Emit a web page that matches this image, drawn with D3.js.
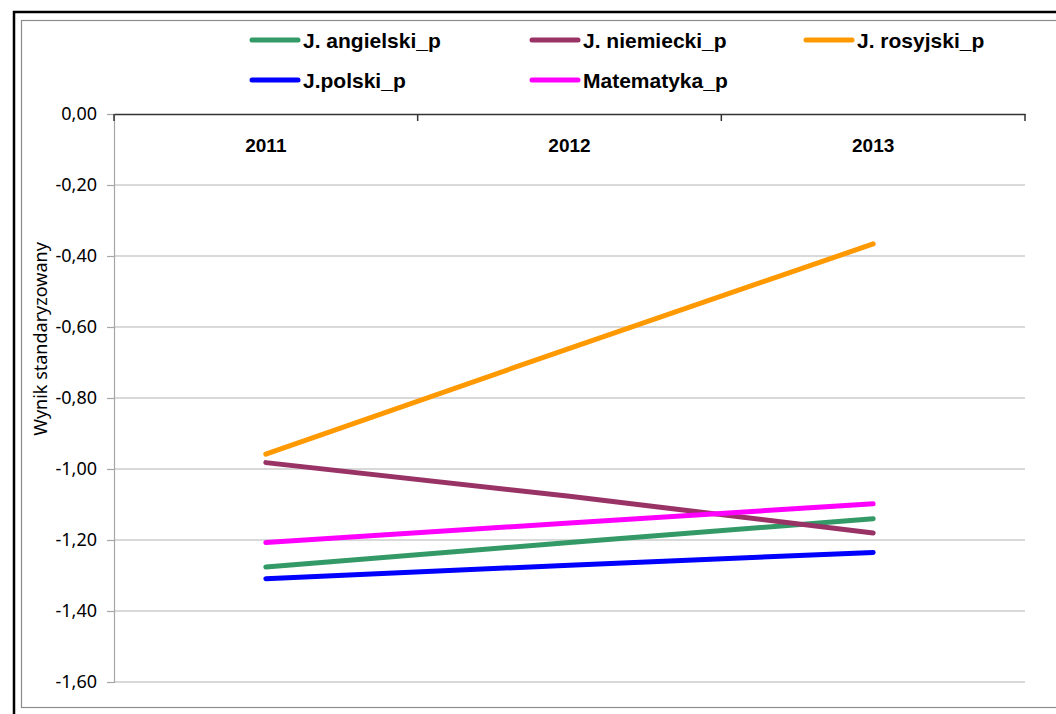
<!DOCTYPE html>
<html>
<head>
<meta charset="utf-8">
<script src="https://cdn.jsdelivr.net/npm/d3@7"></script>
<style>
  body { margin: 0; background: #fff; }
  svg { display: block; }
</style>
</head>
<body>
<div id="chart"></div>
<script>
const years = ["2011", "2012", "2013"]
const angielski = [-1.276, -1.207, -1.140]
const niemiecki = [-0.982, -1.077, -1.180]
const rosyjski = [-0.958, -0.660, -0.366]
const polski = [-1.309, -1.271, -1.235]
const matematyka = [-1.207, -1.152, -1.098]
const seriesNames = ["J. angielski_p", "J. niemiecki_p", "J. rosyjski_p", "J.polski_p", "Matematyka_p"]
const yTicks = [0, -0.2, -0.4, -0.6, -0.8, -1.0, -1.2, -1.4, -1.6]

const series = [
  { name: seriesNames[0], values: angielski, color: "#339966" },
  { name: seriesNames[1], values: niemiecki, color: "#993366" },
  { name: seriesNames[2], values: rosyjski, color: "#FF9900" },
  { name: seriesNames[3], values: polski, color: "#0000FF" },
  { name: seriesNames[4], values: matematyka, color: "#FF00FF" }
]

const W = 1056, H = 714
const pLeft = 114, pRight = 1025, pTop = 114, pBottom = 682

const svg = d3.select("#chart").append("svg")
  .attr("width", W)
  .attr("height", H)

// frame
svg.append("path")
  .attr("d", "M14,714 L14,12 L1056,12")
  .attr("fill", "none")
  .attr("stroke", "#000")
  .attr("stroke-width", 2.5)
svg.append("rect")
  .attr("x", 21.5).attr("y", 20.5)
  .attr("width", 1050).attr("height", 687)
  .attr("fill", "none")
  .attr("stroke", "#8c8c8c")
  .attr("stroke-width", 1.2)

const x = d3.scaleBand().domain(years).range([pLeft, pRight])
const y = d3.scaleLinear().domain([-1.6, 0]).range([pBottom, pTop])

// gridlines
svg.append("g")
  .selectAll("line")
  .data(yTicks.slice(1))
  .enter()
  .append("line")
  .attr("x1", pLeft).attr("x2", pRight)
  .attr("y1", d => y(d)).attr("y2", d => y(d))
  .attr("stroke", "#b3b3b3")
  .attr("stroke-width", 1.2)

// y axis
const yAxis = d3.axisLeft(y)
  .tickValues(yTicks)
  .tickSize(7)
  .tickPadding(10)
  .tickFormat(d => d3.format(".2f")(d).replace(".", ",").replace("−", "-"))
const gy = svg.append("g")
  .attr("transform", "translate(" + pLeft + ",0)")
  .call(yAxis)
gy.select(".domain").attr("stroke", "#a6a6a6").attr("stroke-width", 1.2)
gy.selectAll(".tick line").attr("stroke", "#a6a6a6").attr("stroke-width", 1.2)
gy.selectAll("text")
  .attr("font-family", "'Noto Sans', sans-serif")
  .attr("font-size", 18)
  .attr("fill", "#000")

// x axis on top (at 0,00)
const xAxis = d3.axisBottom(x).tickSize(0).tickPadding(25)
const gx = svg.append("g")
  .attr("transform", "translate(0," + pTop + ")")
  .call(xAxis)
gx.select(".domain").attr("stroke", "#333").attr("stroke-width", 1.5)
gx.selectAll("text")
  .attr("font-family", "'Liberation Sans', Arial, sans-serif")
  .attr("font-size", 19)
  .attr("font-weight", "bold")
  .attr("fill", "#000")
gx.selectAll(".bound")
  .data(years.map(d => x(d)).concat([pRight]))
  .enter()
  .append("line")
  .attr("x1", d => d).attr("x2", d => d)
  .attr("y1", 0).attr("y2", 7)
  .attr("stroke", "#333")
  .attr("stroke-width", 1.5)

// y title
svg.append("text")
  .attr("transform", "translate(47,339) rotate(-90)")
  .attr("text-anchor", "middle")
  .attr("font-family", "'Noto Sans', sans-serif")
  .attr("font-size", 18)
  .attr("fill", "#000")
  .text("Wynik standaryzowany")

// lines
const line = d3.line()
  .x((d, i) => x(years[i]) + x.bandwidth() / 2)
  .y(d => y(d))

svg.append("g")
  .selectAll("path")
  .data(series)
  .enter()
  .append("path")
  .attr("d", d => line(d.values))
  .attr("fill", "none")
  .attr("stroke", d => d.color)
  .attr("stroke-width", 5)
  .attr("stroke-linecap", "round")

// legend
const legX = [252, 532, 806]
const legY = [40, 80]
const leg = svg.append("g")
  .selectAll("g")
  .data(series)
  .enter()
  .append("g")
  .attr("transform", (d, i) => "translate(" + legX[i % 3] + "," + legY[Math.floor(i / 3)] + ")")
leg.append("line")
  .attr("x1", 0).attr("x2", 46)
  .attr("y1", 0).attr("y2", 0)
  .attr("stroke", d => d.color)
  .attr("stroke-width", 5)
  .attr("stroke-linecap", "round")
leg.append("text")
  .attr("x", 51)
  .attr("y", 7.5)
  .attr("font-family", "'Liberation Sans', Arial, sans-serif")
  .attr("font-size", 21)
  .attr("font-weight", "bold")
  .attr("fill", "#000")
  .text(d => d.name)
</script>
</body>
</html>
